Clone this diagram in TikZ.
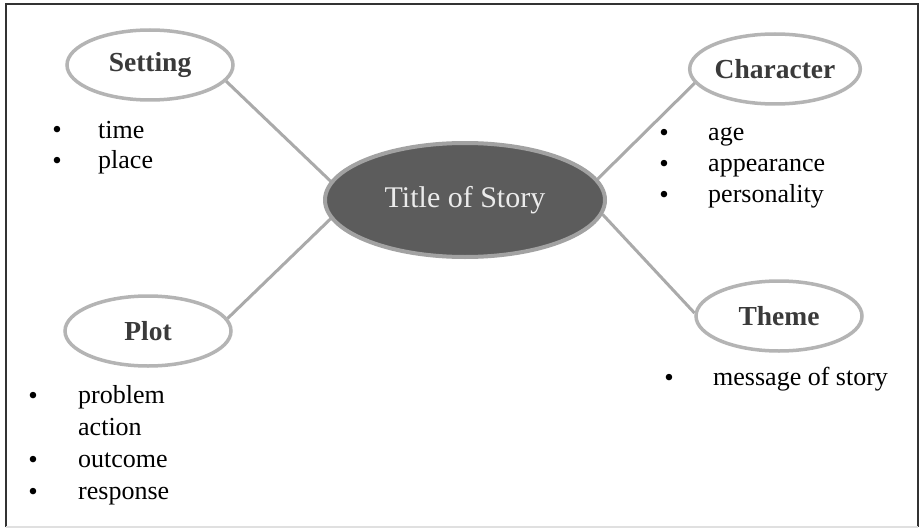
\documentclass[tikz,border=0pt]{standalone}
\usepackage{fontspec}
\setmainfont{Liberation Serif}
\usetikzlibrary{shapes.geometric}
\definecolor{ringgray}{HTML}{B4B4B4}
\definecolor{linegray}{HTML}{AAAAAA}
\definecolor{titlefill}{HTML}{5C5C5C}
\definecolor{headgray}{HTML}{3A3A3A}
\pgfdeclarelayer{background}
\pgfsetlayers{background,main}
\begin{document}
\begin{tikzpicture}[x=1pt,y=-1pt,
  topic/.style={ellipse, draw=ringgray, line width=3.5pt, fill=white, minimum width=166pt, minimum height=70pt, inner sep=0pt, font=\fontsize{27.5}{30}\selectfont\bfseries, text=headgray},
  centre/.style={ellipse, draw=ringgray!90!black, line width=4pt, fill=titlefill, minimum width=280pt, minimum height=114pt, inner sep=0pt, font=\fontsize{30}{33}\selectfont, text=white!92!black},
  link/.style={draw=linegray, line width=3pt},
  item/.style={anchor=base west, inner sep=0pt, font=\fontsize{26}{29}\selectfont},
  dot/.style={anchor=base, inner sep=0pt, font=\fontsize{27}{30}\selectfont}]
\useasboundingbox (0,0) rectangle (920,532);
\begin{pgfonlayer}{background}
\fill[white] (0,0) rectangle (920,532);
\end{pgfonlayer}
% frame
\draw[black!80, line width=2pt] (6,527) -- (6,4) -- (918,4) -- (918,527);
\draw[black!12, line width=1.5pt] (6,527) -- (918,527);
% nodes
\node[centre] (title) at (465,200) {Title of Story};
\node[topic] (setting) at (150,65) {Setting};
\node[topic] (character) at (775,69) {Character};
\node[topic] (plot) at (148,331) {Plot};
\node[topic] (theme) at (779,316) {Theme};
% connectors
\begin{pgfonlayer}{background}
\draw[link] (setting.-12) -- (title.172);
\draw[link] (character.190) -- (title.9);
\draw[link] (plot.9) -- (title.188);
\draw[link] (theme.178) -- (title.-6);
\end{pgfonlayer}
% lists
\node[dot] (b1) at (57,139) {\textbullet};
\node[item] (t1) at (98,138) {time};
\node[dot] (b2) at (57,169) {\textbullet};
\node[item] (t2) at (98,168) {place};
\node[dot] (b3) at (664,141) {\textbullet};
\node[item] (t3) at (708,140) {age};
\node[dot] (b4) at (664,172) {\textbullet};
\node[item] (t4) at (708,171) {appearance};
\node[dot] (b5) at (664,203) {\textbullet};
\node[item] (t5) at (708,202) {personality};
\node[dot] (b6) at (33,404) {\textbullet};
\node[item] (t6) at (78,403) {problem};
\node[item] (t7) at (78,435) {action};
\node[dot] (b8) at (33,468) {\textbullet};
\node[item] (t8) at (78,467) {outcome};
\node[dot] (b9) at (33,500) {\textbullet};
\node[item] (t9) at (78,499) {response};
\node[dot] (b10) at (669,386) {\textbullet};
\node[item] (t10) at (713,385) {message of story};
\end{tikzpicture}
\end{document}
